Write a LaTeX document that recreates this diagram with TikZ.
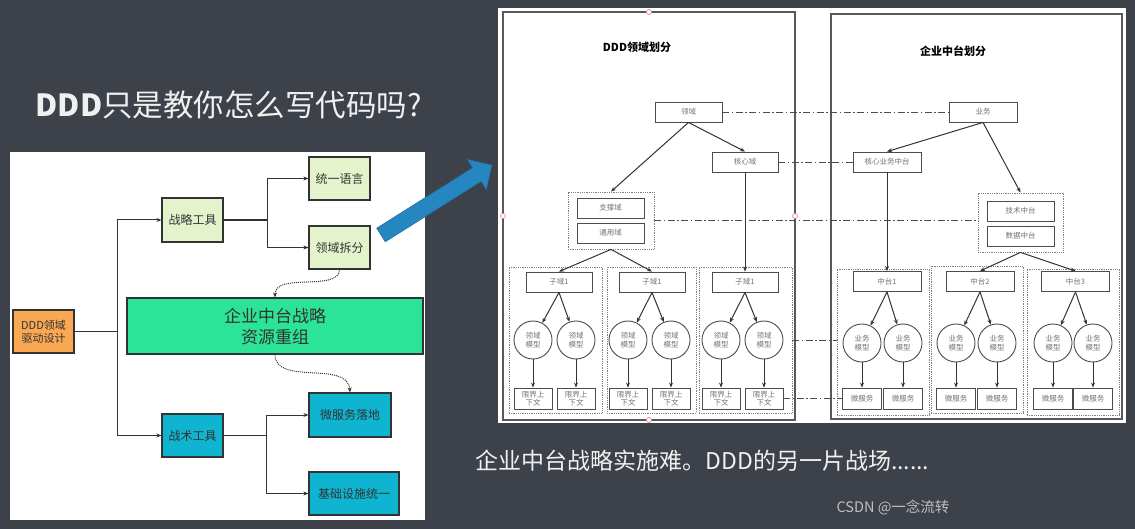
\documentclass[tikz,border=0pt]{standalone}
\usepackage{fontspec}
\setmainfont{Noto Sans CJK SC}
\usetikzlibrary{arrows.meta,calc}
\definecolor{slate}{RGB}{61,65,73}
\definecolor{orangebox}{RGB}{250,168,84}
\definecolor{palegreen}{RGB}{229,243,204}
\definecolor{mint}{RGB}{44,228,152}
\definecolor{tealbox}{RGB}{14,180,208}
\definecolor{bigarrow}{RGB}{38,134,192}
\definecolor{handle}{RGB}{220,130,140}

\begin{document}
\begin{tikzpicture}[x=1pt, y=-1pt, > = Stealth,
    flowbox/.style = {draw=black!80, line width=1.1pt, inner sep=0pt, align=center, text=black!80, font=\fontsize{12}{14}\selectfont},
    cellbox/.style = {draw=black!70, line width=0.9pt, inner sep=0pt, minimum height=20pt, align=center, text=black!55, font=\fontsize{7.5}{8.5}\selectfont},
    modelnode/.style = {cellbox, circle, minimum size=38pt},
    ctxbox/.style = {cellbox, minimum width=38pt, minimum height=21pt},
    zonebox/.style = {draw=black!50, densely dotted, line width=0.8pt, inner sep=0pt},
    tieline/.style = {black!70, line width=0.9pt, dash pattern=on 7pt off 2.5pt on 1.5pt off 2.5pt},
    goarrow/.style = {-{Stealth[length=5pt,width=4pt]}, line width=1pt, black!80},
    handlept/.style = {circle, draw=handle, fill=white, line width=0.6pt, inner sep=0pt, minimum size=5pt},
  ]
  \fill[slate] (0,0) rectangle (1135,529);
  \useasboundingbox (0,0) rectangle (1135,529);

  \node[anchor=west, text=white!94!black, font=\fontsize{30.5}{33}\selectfont] (title) at (32,105) {\textbf{DDD}只是教你怎么写代码吗?};

  \fill[white] (10,152) rectangle (425,520);
  \node[flowbox, fill=orangebox, minimum width=61pt, minimum height=43pt, font=\fontsize{11}{13}\selectfont] (ddd) at (43.5,331.5) {DDD领域\\驱动设计};
  \node[flowbox, fill=palegreen, minimum width=61pt, minimum height=44pt] (zlgj) at (192.5,220) {战略工具};
  \node[flowbox, fill=palegreen, minimum width=61pt, minimum height=43pt] (tyyy) at (339.5,178.5) {统一语言};
  \node[flowbox, fill=palegreen, minimum width=61pt, minimum height=43pt] (lycf) at (339.5,247.5) {领域拆分};
  \node[flowbox, fill=mint, minimum width=296pt, minimum height=56pt, font=\fontsize{17}{21}\selectfont] (qyzt) at (275,326) {企业中台战略\\资源重组};
  \node[flowbox, fill=tealbox, minimum width=61pt, minimum height=43pt] (zsgj) at (192.5,435.5) {战术工具};
  \node[flowbox, fill=tealbox, minimum width=82pt, minimum height=44pt] (wfw) at (350,415) {微服务落地};
  \node[flowbox, fill=tealbox, minimum width=90pt, minimum height=43pt] (jcss) at (354,493.5) {基础设施统一};

  \coordinate (f1) at (117,331.5);
  \coordinate (f2) at (267,220);
  \coordinate (f3) at (266,435.5);
  \draw[line width=1.1pt, black!80] (ddd) -- (f1) (zlgj) -- (f2) (zsgj) -- (f3);
  \draw[goarrow] (f1) |- (zlgj);
  \draw[goarrow] (f1) |- (zsgj);
  \draw[goarrow] (f2) |- (tyyy);
  \draw[goarrow] (f2) |- (lycf);
  \draw[goarrow] (f3) |- (wfw);
  \draw[goarrow] (f3) |- (jcss);
  \draw[goarrow, densely dotted] (lycf.south) .. controls (339,292) and (275,272) .. (qyzt.north);
  \draw[goarrow, densely dotted] (qyzt.south) .. controls (275,386) and (348,360) .. (wfw.north);

  \fill[bigarrow, draw=bigarrow!80!black, line width=0.5pt] (385.3,241.8) -- (481.1,181.4) -- (486.4,189.8) -- (492,165) -- (467.2,159.4) -- (472.5,167.8) -- (376.7,228.2) -- cycle;

  \fill[white] (498,8) rectangle (1126,423);
  \draw[black!65, line width=1.2pt] (503,12) rectangle (795,420);
  \draw[black!65, line width=1.2pt] (831,14) rectangle (1122,419);
  \node[font=\bfseries\fontsize{11}{13}\selectfont] (t1) at (637,47) {DDD领域划分};
  \node[font=\bfseries\fontsize{11}{13}\selectfont] (t2) at (953,51) {企业中台划分};

  \node[cellbox, minimum width=67pt] (ly) at (688.5,112) {领域};
  \node[cellbox, minimum width=66pt] (hxy) at (745,162) {核心域};
  \node[zonebox, minimum width=86pt, minimum height=57pt] (gzc) at (611,220.5) {};
  \node[cellbox, minimum width=67pt] (zcy) at (610.5,208) {支撑域};
  \node[cellbox, minimum width=67pt] (tyy) at (610.5,233) {通用域};

  \node[cellbox, minimum width=68pt] (yw) at (983,112) {业务};
  \node[cellbox, minimum width=68pt] (hxyw) at (887,162) {核心业务中台};
  \node[zonebox, minimum width=85pt, minimum height=59pt] (gzt) at (1020.5,222.5) {};
  \node[cellbox, minimum width=67pt] (jszt) at (1020.5,211) {技术中台};
  \node[cellbox, minimum width=67pt] (sjzt) at (1020.5,236) {数据中台};

  \node[zonebox, minimum width=93pt, minimum height=146pt] (g1) at (555.5,340) {};
  \node[zonebox, minimum width=89pt, minimum height=146pt] (g2) at (651.5,340) {};
  \node[zonebox, minimum width=93pt, minimum height=146pt] (g3) at (745.5,340) {};
  \node[zonebox, minimum width=92pt, minimum height=146pt] (h1) at (883,342) {};
  \node[zonebox, minimum width=92pt, minimum height=147pt] (h2) at (977,339.5) {};
  \node[zonebox, minimum width=92pt, minimum height=146pt] (h3) at (1073,342) {};

  \node[cellbox, minimum width=66pt] (zy1) at (559,282) {子域1};
  \node[cellbox, minimum width=66pt] (zy2) at (652,282) {子域1};
  \node[cellbox, minimum width=66pt] (zy3) at (745,282) {子域1};
  \node[cellbox, minimum width=68pt] (zt1) at (887,281.5) {中台1};
  \node[cellbox, minimum width=68pt] (zt2) at (980,281.5) {中台2};
  \node[cellbox, minimum width=68pt] (zt3) at (1075.5,281.5) {中台3};

  \node[modelnode] (m1) at (533,340) {领域\\模型};
  \node[modelnode] (m2) at (576,340) {领域\\模型};
  \node[modelnode] (m3) at (628,340) {领域\\模型};
  \node[modelnode] (m4) at (671,340) {领域\\模型};
  \node[modelnode] (m5) at (721,340) {领域\\模型};
  \node[modelnode] (m6) at (764,340) {领域\\模型};
  \node[ctxbox] (c1) at (533,398.5) {限界上\\下文};
  \node[ctxbox] (c2) at (576,398.5) {限界上\\下文};
  \node[ctxbox] (c3) at (628,398.5) {限界上\\下文};
  \node[ctxbox] (c4) at (671,398.5) {限界上\\下文};
  \node[ctxbox] (c5) at (721,398.5) {限界上\\下文};
  \node[ctxbox] (c6) at (764,398.5) {限界上\\下文};

  \node[modelnode] (y1) at (862,343) {业务\\模型};
  \node[modelnode] (y2) at (903,343) {业务\\模型};
  \node[modelnode] (y3) at (956,343) {业务\\模型};
  \node[modelnode] (y4) at (997,343) {业务\\模型};
  \node[modelnode] (y5) at (1053,343) {业务\\模型};
  \node[modelnode] (y6) at (1093,343) {业务\\模型};
  \node[ctxbox, minimum width=39pt] (w1) at (862,398.5) {微服务};
  \node[ctxbox, minimum width=39pt] (w2) at (903,398.5) {微服务};
  \node[ctxbox, minimum width=39pt] (w3) at (956,398.5) {微服务};
  \node[ctxbox, minimum width=39pt] (w4) at (997,398.5) {微服务};
  \node[ctxbox, minimum width=39pt] (w5) at (1053,398.5) {微服务};
  \node[ctxbox, minimum width=39pt] (w6) at (1093,398.5) {微服务};

  \draw[goarrow] (ly.south) -- (gzc.north);
  \draw[goarrow] (ly.south) -- (hxy.north);
  \draw[goarrow] (hxy) -- (zy3);
  \draw[goarrow] (gzc.south) -- (zy1.north);
  \draw[goarrow] (gzc.south) -- (zy2.north);
  \draw[goarrow] (yw.south) -- (hxyw.north);
  \draw[goarrow] (yw.south) -- (gzt.north);
  \draw[goarrow] (hxyw) -- (zt1);
  \draw[goarrow] (gzt.south) -- (zt2.north);
  \draw[goarrow] (gzt.south) -- (zt3.north);

  \draw[goarrow] (zy1.south) -- (m1);
  \draw[goarrow] (zy1.south) -- (m2);
  \draw[goarrow] (zy2.south) -- (m3);
  \draw[goarrow] (zy2.south) -- (m4);
  \draw[goarrow] (zy3.south) -- (m5);
  \draw[goarrow] (zy3.south) -- (m6);
  \draw[goarrow] (zt1.south) -- (y1);
  \draw[goarrow] (zt1.south) -- (y2);
  \draw[goarrow] (zt2.south) -- (y3);
  \draw[goarrow] (zt2.south) -- (y4);
  \draw[goarrow] (zt3.south) -- (y5);
  \draw[goarrow] (zt3.south) -- (y6);
  \draw[goarrow] (m1) -- (c1);
  \draw[goarrow] (m2) -- (c2);
  \draw[goarrow] (m3) -- (c3);
  \draw[goarrow] (m4) -- (c4);
  \draw[goarrow] (m5) -- (c5);
  \draw[goarrow] (m6) -- (c6);
  \draw[goarrow] (y1) -- (w1);
  \draw[goarrow] (y2) -- (w2);
  \draw[goarrow] (y3) -- (w3);
  \draw[goarrow] (y4) -- (w4);
  \draw[goarrow] (y5) -- (w5);
  \draw[goarrow] (y6) -- (w6);

  \draw[tieline] (ly) -- (yw);
  \draw[tieline] (hxy) -- (hxyw);
  \draw[tieline] (gzc.east) -- (gzc.east -| gzt.west);
  \draw[tieline] (g3.east) -- (g3.east -| h1.west);
  \draw[tieline] (c6) -- (w1);

  \node[handlept] (p1) at (649,12) {};
  \node[handlept] (p2) at (503,216) {};
  \node[handlept] (p3) at (795,216) {};
  \node[handlept] (p4) at (649,420) {};

  \node[anchor=west, text=white!94!black, font=\fontsize{23}{26}\selectfont] (tail) at (472,461) {企业中台战略实施难。DDD的另一片战场......};
  \node[text=white!75!black, font=\fontsize{14.5}{16}\selectfont] (mark) at (893,508) {CSDN @一念流转};
\end{tikzpicture}
\end{document}
